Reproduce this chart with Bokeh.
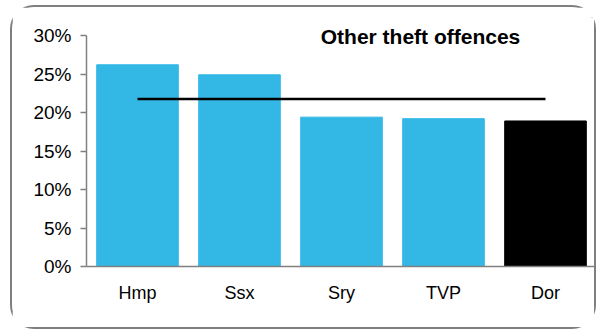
from bokeh.plotting import figure
from bokeh.models import ColumnDataSource, NumeralTickFormatter, FixedTicker, Label, Range1d
from bokeh.embed import file_html
from bokeh.resources import INLINE

categories = ["Hmp", "Ssx", "Sry", "TVP", "Dor"]
values = [0.262, 0.249, 0.194, 0.192, 0.189]
colors = ["#33B8E6", "#33B8E6", "#33B8E6", "#33B8E6", "#000000"]
average = 0.2175
y_ticks = [0, 0.05, 0.10, 0.15, 0.20, 0.25, 0.30]
title_text = "Other theft offences"

src = ColumnDataSource(dict(cat=categories, val=values, col=colors))

p = figure(x_range=categories, y_range=Range1d(0, 0.3234), width=586, height=324,
           output_backend="svg", toolbar_location=None,
           min_border_left=74, min_border_right=2, min_border_top=10, min_border_bottom=65)
p.styles = {"border": "2.5px solid #7f7f7f", "border-radius": "24px",
            "margin-left": "10px", "margin-top": "5px", "box-sizing": "border-box"}
p.x_range.range_padding = 0
p.outline_line_color = None
p.grid.grid_line_color = None

p.vbar(x="cat", top="val", width=0.8, color="col", source=src)
p.segment(x0=[categories[0]], x1=[categories[-1]], y0=[average], y1=[average],
          line_color="black", line_width=2.5)

p.yaxis.ticker = FixedTicker(ticks=y_ticks)
p.yaxis.formatter = NumeralTickFormatter(format="0%")
p.yaxis.bounds = (0, 0.30)
for ax in (p.xaxis, p.yaxis):
    ax.axis_line_color = "#808080"
    ax.axis_line_width = 1.5
    ax.major_tick_line_color = "#808080"
    ax.major_tick_line_width = 1.5
    ax.minor_tick_line_color = None
    ax.major_label_text_font = "Liberation Sans"
    ax.major_label_text_color = "black"
p.yaxis.major_label_text_font_size = "19px"
p.xaxis.major_label_text_font_size = "18px"
p.yaxis.major_tick_out = 6
p.yaxis.major_tick_in = 0
p.yaxis.major_label_standoff = 9
p.xaxis.major_tick_out = 0
p.xaxis.major_tick_in = 0
p.xaxis.major_label_standoff = 16

p.add_layout(Label(x=334, y=230, x_units="screen", y_units="screen", text=title_text,
                   text_font="Liberation Sans", text_font_style="bold", text_font_size="21px",
                   text_align="center", text_baseline="middle", text_color="black"))

open("out.html", "w").write(file_html(p, INLINE))
